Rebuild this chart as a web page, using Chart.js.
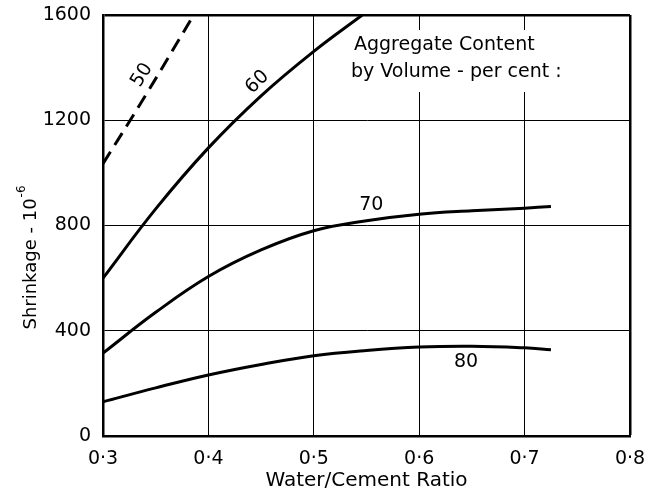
<!DOCTYPE html>
<html>
<head>
<meta charset="utf-8">
<script src="https://cdn.jsdelivr.net/npm/chart.js@4"></script>
<style>
  body { margin: 0; background: #fff; }
  canvas { display: block; }
</style>
</head>
<body>
<canvas id="shrinkage-chart" width="648" height="495"></canvas>
<script>
// Water/cement ratio values
const ratio50 = [0.30, 0.34, 0.386];
const shrink50 = [1035, 1292, 1600];

const ratio60 = [0.30, 0.35, 0.40, 0.45, 0.50, 0.546];
const shrink60 = [600, 863, 1095, 1293, 1462, 1600];

const ratio70 = [0.30, 0.35, 0.40, 0.45, 0.50, 0.55, 0.60, 0.65, 0.70, 0.725];
const shrink70 = [315, 470, 606, 707, 780, 818, 843, 856, 866, 872];

const ratio80 = [0.30, 0.35, 0.40, 0.45, 0.50, 0.55, 0.60, 0.65, 0.70, 0.725];
const shrink80 = [130, 183, 232, 272, 305, 325, 338, 341, 335, 328];

const curveLabels = ['50', '60', '70', '80'];
const yTicks = [0, 400, 800, 1200, 1600];

const FONT = '"DejaVu Sans", sans-serif';

function pts(xs, ys) {
    return xs.map((x, i) => ({x, y: ys[i]}));
}

function curve(label, xs, ys, dash) {
    return {
        label,
        data: pts(xs, ys),
        borderColor: '#000',
        borderWidth: 3,
        borderDash: dash || [],
        pointRadius: 0,
        fill: false,
        tension: 0.4
    };
}

// text labels, white box behind the legend note, axis titles
const notes = {
    id: 'notes',
    beforeDatasetsDraw(chart) {
        const c = chart.ctx;
        c.save();
        c.fillStyle = '#fff';
        c.fillRect(345, 30, 232, 62);
        c.restore();
    },
    afterDraw(chart) {
        const c = chart.ctx;
        const xs = chart.scales.x, ys = chart.scales.y;
        c.save();
        c.fillStyle = '#000';
        c.font = '19px ' + FONT;
        c.textBaseline = 'middle';
        c.textAlign = 'left';
        c.fillText('Aggregate Content', 354, 45);
        c.fillText('by Volume - per cent :', 351, 72);

        const spots = [
            [0.337, 1371, -58],
            [0.4465, 1345, -45],
            [0.5545, 877, 0],
            [0.6445, 281, 0]
        ];
        c.textAlign = 'center';
        spots.forEach((s, i) => {
            c.save();
            c.translate(xs.getPixelForValue(s[0]), ys.getPixelForValue(s[1]));
            c.rotate(s[2] * Math.PI / 180);
            c.fillText(curveLabels[i], 0, 0);
            c.restore();
        });

        // x title
        c.font = '20px ' + FONT;
        c.fillText('Water/Cement Ratio', (xs.left + xs.right) / 2, 481);

        // y title with superscript
        c.save();
        c.translate(31, 258);
        c.rotate(-Math.PI / 2);
        c.font = '18px ' + FONT;
        const main = 'Shrinkage - 10';
        const w1 = c.measureText(main).width;
        c.font = '12px ' + FONT;
        const w2 = c.measureText('-6').width;
        const start = -(w1 + w2) / 2;
        c.textAlign = 'left';
        c.font = '18px ' + FONT;
        c.fillText(main, start, 0);
        c.font = '12px ' + FONT;
        c.fillText('-6', start + w1 + 1, -9);
        c.restore();
        c.restore();
    }
};

const isEdge = (v, edge) => Math.abs(v - edge) < 1e-6;

const chart = new Chart(document.getElementById('shrinkage-chart'), {
    type: 'line',
    data: {
        datasets: [
            curve('50', ratio50, shrink50, [14, 8]),
            curve('60', ratio60, shrink60),
            curve('70', ratio70, shrink70),
            curve('80', ratio80, shrink80)
        ]
    },
    options: {
        responsive: false,
        animation: false,
        layout: { padding: { top: 15, right: 18, left: 0, bottom: 0 } },
        plugins: {
            legend: { display: false },
            tooltip: { enabled: false }
        },
        scales: {
            x: {
                type: 'linear',
                min: 0.3,
                max: 0.8,
                afterFit(scale) {
                    scale.height = 59;
                    scale.paddingLeft = 0;
                    scale.paddingRight = 0;
                },
                ticks: {
                    stepSize: 0.1,
                    padding: 12,
                    color: '#000',
                    font: { size: 19, family: FONT },
                    callback: v => v.toFixed(1).replace('.', '·')
                },
                grid: {
                    color: '#000',
                    drawTicks: false,
                    lineWidth: ctx => isEdge(ctx.tick.value, 0.8) ? 2.5 : 1
                },
                border: { color: '#000', width: 2.5 }
            },
            y: {
                min: 0,
                max: 1600,
                afterFit(scale) {
                    scale.width = 103;
                    scale.paddingTop = 0;
                    scale.paddingBottom = 0;
                },
                afterBuildTicks(scale) { scale.ticks = yTicks.map(v => ({value: v})); },
                ticks: {
                    padding: 12,
                    color: '#000',
                    font: { size: 19, family: FONT },
                    callback: v => String(v)
                },
                grid: {
                    color: '#000',
                    drawTicks: false,
                    lineWidth: ctx => isEdge(ctx.tick.value, 1600) ? 2.5 : 1
                },
                border: { color: '#000', width: 2.5 }
            }
        }
    },
    plugins: [notes]
});
</script>
</body>
</html>
